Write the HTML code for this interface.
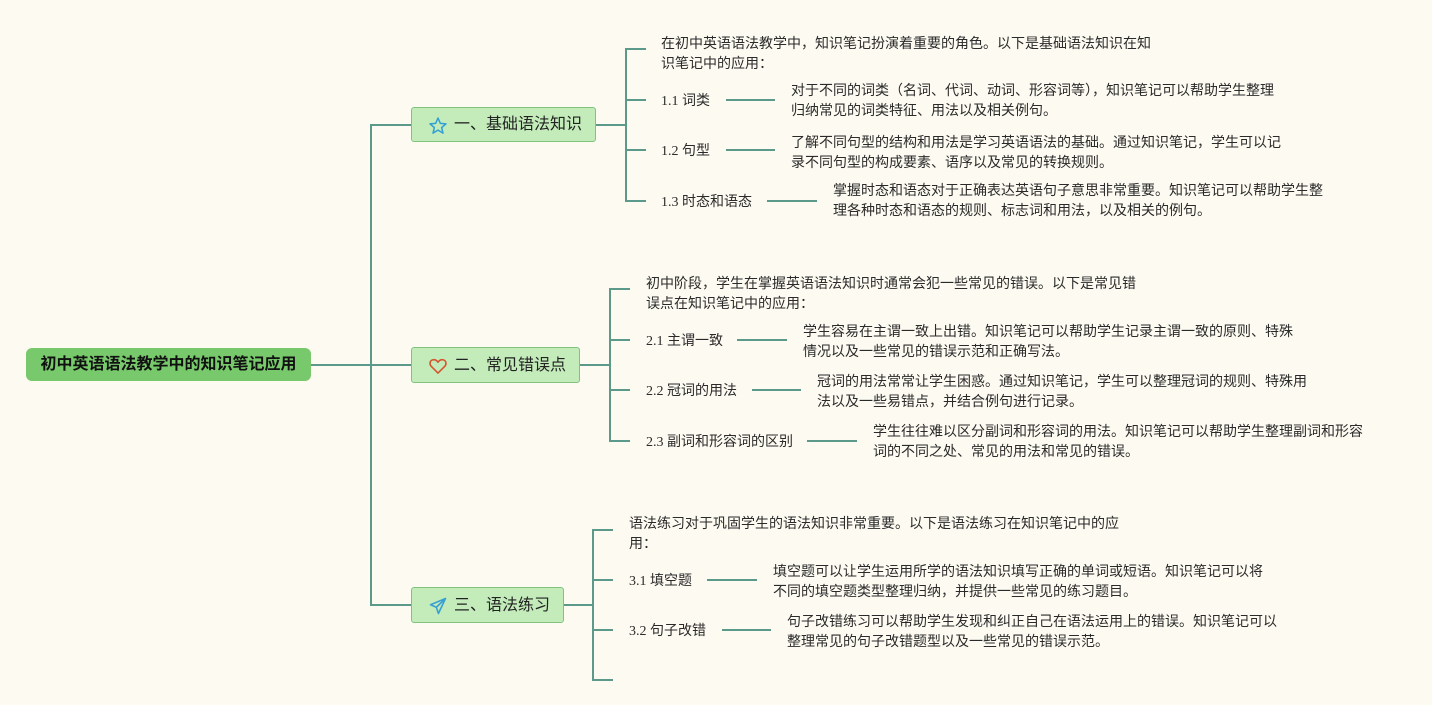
<!DOCTYPE html>
<html><head><meta charset="utf-8">
<style>
html,body{margin:0;padding:0;}
body{width:1432px;height:705px;background:#fdfbf1;position:relative;overflow:hidden;font-family:"Liberation Sans","Noto Sans CJK SC",sans-serif;color:#222;}
.t{position:absolute;font-size:14px;line-height:20px;white-space:nowrap;letter-spacing:0;color:#2a2a2a;}
.lab{position:absolute;font-size:14px;line-height:20px;white-space:nowrap;font-family:"Liberation Serif","Noto Sans CJK SC",serif;color:#2a2a2a;}
.lab span{font-family:"Liberation Sans","Noto Sans CJK SC",sans-serif;}
.root{position:absolute;left:26px;top:348px;width:285px;height:33px;background:#78c96b;border-radius:6px;font-weight:bold;font-size:16px;line-height:33px;text-align:center;color:#111;}
.br{position:absolute;left:411px;background:#c3ecba;border:1px solid #82c27f;border-radius:3px;box-sizing:border-box;font-size:16px;color:#222;}
.br .ic{position:absolute;left:16px;top:8px;width:20px;height:20px;}
.br .tx{position:absolute;left:42px;top:0;line-height:34px;white-space:nowrap;}
svg.lines{position:absolute;left:0;top:0;}
</style></head><body>
<svg class="lines" width="1432" height="705" viewBox="0 0 1432 705">
<g stroke="#5b9a8b" stroke-width="2" fill="none">
<path d="M311 365 H411"/>
<path d="M371 124 V606"/>
<path d="M370 125 H411"/>
<path d="M370 605 H411"/>
<path d="M596 125 H626"/>
<path d="M626 48 V202"/>
<path d="M625 49 H646 M626 100 H646 M626 150 H646 M625 201 H646"/>
<path d="M726 100 H775 M726 150 H775 M767 201 H817"/>
<path d="M580 365 H610"/>
<path d="M610 288 V442"/>
<path d="M609 289 H630 M610 340 H630 M610 390 H630 M609 441 H630"/>
<path d="M737 340 H787 M752 390 H801 M807 441 H857"/>
<path d="M564 605 H593"/>
<path d="M593 529 V681"/>
<path d="M592 530 H613 M593 580 H613 M593 630 H613 M592 680 H613"/>
<path d="M707 580 H757 M722 630 H771"/>
</g>
</svg>

<div class="root">初中英语语法教学中的知识笔记应用</div>

<div class="br" style="top:107px;width:185px;height:35px;">
<svg class="ic" viewBox="0 0 24 24"><path d="M12 2.5 L14.8 8.8 L21.6 9.4 L16.4 13.9 L18 20.6 L12 17 L6 20.6 L7.6 13.9 L2.4 9.4 L9.2 8.8 Z" fill="none" stroke="#2f9fd6" stroke-width="1.8" stroke-linejoin="round"/></svg>
<div class="tx">一、基础语法知识</div>
</div>

<div class="br" style="top:347px;width:169px;height:36px;">
<svg class="ic" viewBox="0 0 24 24"><path d="M12 20.5 L4 12.5 C1.5 10 2 5.5 5.5 4.6 C8 4 10.5 5.2 12 7.5 C13.5 5.2 16 4 18.5 4.6 C22 5.5 22.5 10 20 12.5 Z" fill="none" stroke="#d4552e" stroke-width="1.9" stroke-linejoin="round"/></svg>
<div class="tx" style="line-height:35px;">二、常见错误点</div>
</div>

<div class="br" style="top:587px;width:153px;height:36px;">
<svg class="ic" viewBox="0 0 24 24"><path d="M21 3 L3 10.5 L10 13.5 L12.5 21 Z M21 3 L10 13.5" fill="none" stroke="#3a9fd2" stroke-width="1.9" stroke-linejoin="round"/></svg>
<div class="tx" style="line-height:35px;">三、语法练习</div>
</div>

<!-- Branch 1 -->
<div class="t" style="left:661px;top:33px;">在初中英语语法教学中，知识笔记扮演着重要的角色。以下是基础语法知识在知<br>识笔记中的应用：</div>
<div class="lab" style="left:661px;top:90px;">1.1 <span>词类</span></div>
<div class="t" style="left:791px;top:80px;">对于不同的词类（名词、代词、动词、形容词等），知识笔记可以帮助学生整理<br>归纳常见的词类特征、用法以及相关例句。</div>
<div class="lab" style="left:661px;top:140px;">1.2 <span>句型</span></div>
<div class="t" style="left:791px;top:132px;">了解不同句型的结构和用法是学习英语语法的基础。通过知识笔记，学生可以记<br>录不同句型的构成要素、语序以及常见的转换规则。</div>
<div class="lab" style="left:661px;top:191px;">1.3 <span>时态和语态</span></div>
<div class="t" style="left:833px;top:180px;">掌握时态和语态对于正确表达英语句子意思非常重要。知识笔记可以帮助学生整<br>理各种时态和语态的规则、标志词和用法，以及相关的例句。</div>

<!-- Branch 2 -->
<div class="t" style="left:646px;top:273px;">初中阶段，学生在掌握英语语法知识时通常会犯一些常见的错误。以下是常见错<br>误点在知识笔记中的应用：</div>
<div class="lab" style="left:646px;top:330px;">2.1 <span>主谓一致</span></div>
<div class="t" style="left:803px;top:321px;">学生容易在主谓一致上出错。知识笔记可以帮助学生记录主谓一致的原则、特殊<br>情况以及一些常见的错误示范和正确写法。</div>
<div class="lab" style="left:646px;top:380px;">2.2 <span>冠词的用法</span></div>
<div class="t" style="left:817px;top:371px;">冠词的用法常常让学生困惑。通过知识笔记，学生可以整理冠词的规则、特殊用<br>法以及一些易错点，并结合例句进行记录。</div>
<div class="lab" style="left:646px;top:431px;">2.3 <span>副词和形容词的区别</span></div>
<div class="t" style="left:873px;top:421px;">学生往往难以区分副词和形容词的用法。知识笔记可以帮助学生整理副词和形容<br>词的不同之处、常见的用法和常见的错误。</div>

<!-- Branch 3 -->
<div class="t" style="left:629px;top:513px;">语法练习对于巩固学生的语法知识非常重要。以下是语法练习在知识笔记中的应<br>用：</div>
<div class="lab" style="left:629px;top:570px;">3.1 <span>填空题</span></div>
<div class="t" style="left:773px;top:561px;">填空题可以让学生运用所学的语法知识填写正确的单词或短语。知识笔记可以将<br>不同的填空题类型整理归纳，并提供一些常见的练习题目。</div>
<div class="lab" style="left:629px;top:620px;">3.2 <span>句子改错</span></div>
<div class="t" style="left:787px;top:611px;">句子改错练习可以帮助学生发现和纠正自己在语法运用上的错误。知识笔记可以<br>整理常见的句子改错题型以及一些常见的错误示范。</div>

</body></html>
